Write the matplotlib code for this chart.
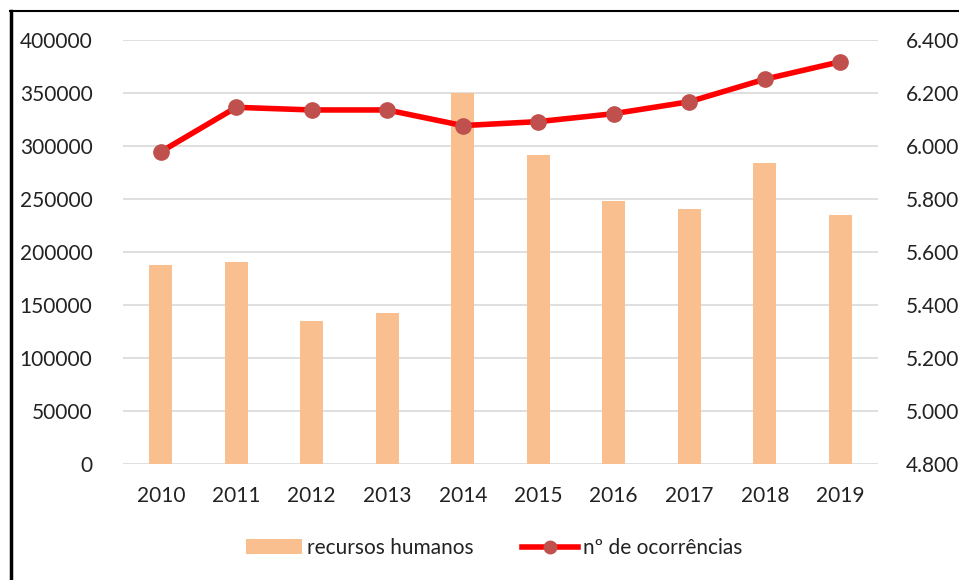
import matplotlib
matplotlib.use("Agg")
import matplotlib.pyplot as plt
from matplotlib.ticker import FuncFormatter
from matplotlib.lines import Line2D

years = ["2010", "2011", "2012", "2013", "2014", "2015", "2016", "2017", "2018", "2019"]
recursos_humanos = [187700, 190800, 134900, 142200, 349700, 291500, 248400, 240600, 283700, 234900]
ocorrencias = [5978, 6146, 6136, 6136, 6077, 6092, 6122, 6167, 6252, 6318]
left_ticks = [0, 50000, 100000, 150000, 200000, 250000, 300000, 350000, 400000]
right_ticks = [4800, 5000, 5200, 5400, 5600, 5800, 6000, 6200, 6400]

plt.rcParams['font.family'] = ['Lato', 'DejaVu Sans']

fig = plt.figure(figsize=(9.59, 5.80), dpi=100)
ax = fig.add_axes([123/959, 1-464/580, (878-123)/959, (464-40)/580])
ax2 = ax.twinx()

x = list(range(len(years)))
bars = ax.bar(x, recursos_humanos, width=0.31, color='#F9BF8F', zorder=2, label='recursos humanos')
ax.set_ylim(0, 400000)
ax.set_yticks(left_ticks)
ax.set_xlim(-0.5, len(years)-0.5)
ax.set_xticks(x)
ax.set_xticklabels(years)
ax.grid(axis='y', color='#D9D9D9', lw=1.2, zorder=0)
ax.set_axisbelow(True)

line, = ax2.plot(x, ocorrencias, color='#FF0000', lw=4, marker='o', markersize=11,
                 markerfacecolor='#C0504D', markeredgecolor='#C0504D', zorder=3,
                 label='nº de ocorrências')
ax2.set_ylim(4800, 6400)
ax2.set_yticks(right_ticks)
ax2.yaxis.set_major_formatter(FuncFormatter(lambda v, p: f"{v/1000:.3f}"))

for a in (ax, ax2):
    for s in a.spines.values():
        s.set_visible(False)
    a.tick_params(length=0, labelsize=15, colors='#222222')
ax.tick_params(axis='y', pad=22)
ax.tick_params(axis='x', pad=16)
ax2.tick_params(axis='y', pad=20)

handles = [bars, Line2D([0], [0], color='#FF0000', lw=4, marker='o', markersize=9,
                         markerfacecolor='#C0504D', markeredgecolor='#C0504D')]
fig.legend(handles, ['recursos humanos', 'nº de ocorrências'], loc='center',
           bbox_to_anchor=(494/959, 1-548/580), ncol=2, frameon=False, fontsize=15,
           handlelength=2.7, handletextpad=0.25, columnspacing=2.3, labelcolor='#222222')

# outer frame (cropped chart border)
fig.add_artist(Line2D([10.5/959, 10.5/959], [0, 1-11/580], transform=fig.transFigure, color='black', lw=2.5))
fig.add_artist(Line2D([10/959, 1], [1-11/580, 1-11/580], transform=fig.transFigure, color='black', lw=1.5))

fig.savefig('out.png', dpi=100)
